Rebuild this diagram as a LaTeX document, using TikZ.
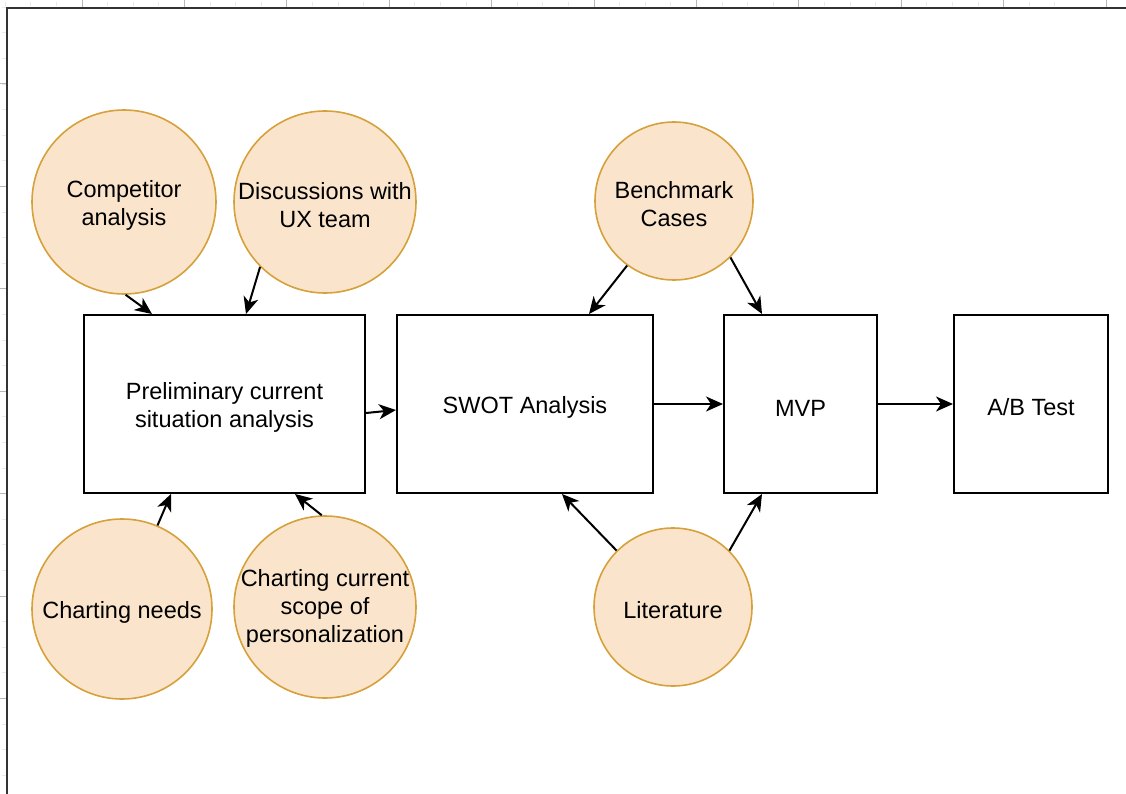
\documentclass[tikz,border=0pt]{standalone}
\usepackage{fontspec}
\setmainfont{Liberation Sans}
\usetikzlibrary{arrows.meta,calc}
\definecolor{ideafill}{HTML}{FAE5CC}
\definecolor{ideaedge}{HTML}{D6A03A}
\definecolor{framegray}{HTML}{333333}
\definecolor{tickgray}{HTML}{B8B8B8}
\newcommand{\labelstrut}{\rule{0pt}{24pt}}
% centred text block whose width does not inflate the circle around it
\newcommand{\narrowlines}[1]{\makebox[120pt][c]{\begin{tabular}{@{}c@{}}#1\end{tabular}}}
\tikzset{
  idea/.style={circle, draw=ideaedge, fill=ideafill, line width=1.6pt, inner sep=0pt,
    align=center, font=\fontsize{23.5}{28}\selectfont},
  stage/.style={rectangle, draw=black, line width=2pt, inner sep=0pt, align=center,
    font=\fontsize{23.5}{28}\selectfont},
  flow/.style={line width=2pt, -{Stealth[length=17pt,width=15pt,inset=5pt]}},
}
\begin{document}
\begin{tikzpicture}[x=1pt,y=-1pt]
\useasboundingbox (0,0) rectangle (1126,794);
% ruler ticks and page frame
\foreach \i in {0,...,41} {
  \draw[tickgray!30, line width=0.7pt] ({82-3*25.6+\i*25.6},2) -- ++(0,4);
}
\foreach \i in {0,...,10} {
  \draw[tickgray, line width=1pt] ({82+\i*102.4},0) -- ++(0,7);
}
\foreach \i in {0,...,30} {
  \draw[tickgray!30, line width=0.7pt] (2,{84-3*25.6+\i*25.6}) -- ++(4,0);
}
\foreach \i in {0,...,7} {
  \draw[tickgray, line width=1pt] (0,{84+\i*102.4}) -- ++(7,0);
}
\draw[framegray, line width=2.2pt] (7,794) -- (7,8) -- (1126,8);

% process stages
\node[stage, minimum width=281pt, minimum height=178pt] (prelim) at (224.5,404) {\labelstrut Preliminary current\\situation analysis};
\node[stage, minimum width=256pt, minimum height=178pt] (swot) at (525,404) {\labelstrut SWOT Analysis};
\node[stage, minimum width=153pt, minimum height=178pt] (mvp) at (800.5,404) {\labelstrut MVP};
\node[stage, minimum width=154pt, minimum height=178pt] (ab) at (1031,404) {\labelstrut A/B Test};

% inputs
\node[idea, minimum size=184pt] (comp) at (124,202) {\labelstrut Competitor\\analysis};
\node[idea, minimum size=182pt] (ux) at (325,202) {\labelstrut Discussions with\\UX team};
\node[idea, minimum size=158pt] (bench) at (674,201) {\labelstrut Benchmark\\Cases};
\node[idea, minimum size=180pt] (needs) at (122,609) {\labelstrut Charting needs};
\node[idea, minimum size=182pt] (scope) at (325,607) {\narrowlines{\labelstrut Charting current\\scope of\\personalization}};
\node[idea, minimum size=158pt] (lit) at (673,607) {\labelstrut Literature};

% connectors
\draw[flow] (comp.-89) -- ($(prelim.north west)+(69,0)$);
\draw[flow] (ux.-135) -- ($(prelim.north west)+(163,0)$);
\draw[flow] (needs.67) -- ($(prelim.south west)+(88,0)$);
\draw[flow] (scope.92) -- ($(prelim.south west)+(212,0)$);
\draw[flow] ($(prelim.east)+(0,9)$) -- ($(swot.west)+(0,6)$);
\draw[flow] (bench.-126) -- ($(swot.north west)+(193,0)$);
\draw[flow] (bench.-45) -- ($(mvp.north west)+(39,0)$);
\draw[flow] (swot.east) -- (mvp.west);
\draw[flow] (lit.135) -- ($(swot.south west)+(166,0)$);
\draw[flow] (lit.45) -- ($(mvp.south west)+(39,0)$);
\draw[flow] (mvp.east) -- (ab.west);
\end{tikzpicture}
\end{document}
